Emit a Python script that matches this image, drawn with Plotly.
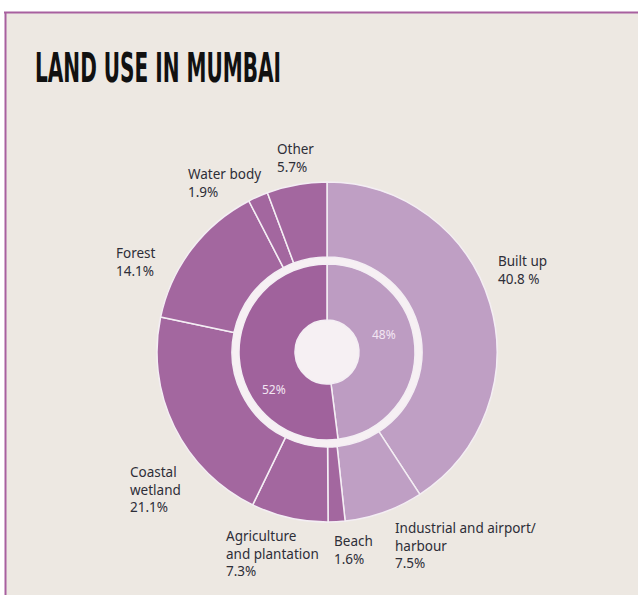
import plotly.graph_objects as go

# ---- data ----
outer_labels = ["Built up", "Industrial and airport/<br>harbour", "Beach",
                "Agriculture<br>and plantation", "Coastal<br>wetland", "Forest",
                "Water body", "Other"]
outer_values = [40.8, 7.5, 1.6, 7.3, 21.1, 14.1, 1.9, 5.7]
outer_pct_text = ["40.8 %", "7.5%", "1.6%", "7.3%", "21.1%", "14.1%", "1.9%", "5.7%"]
outer_group = ["built", "built", "other", "other", "other", "other", "other", "other"]

inner_labels = ["48%", "52%"]
inner_values = [48, 52]
inner_group = ["built", "other"]

title_text = "LAND USE IN MUMBAI"

# ---- styles / positions ----
W, H = 638, 595
LIGHT = "#bf9fc4"
DARK = "#a3679f"
INNER_LIGHT = "#bd9cc2"
INNER_DARK = "#a0629c"
SEP = "#f4eef4"
BG = "#ede8e2"
BORDER = "#a8609f"
colors = {"built": LIGHT, "other": DARK}
inner_colors = {"built": INNER_LIGHT, "other": INNER_DARK}

cx, cy = 327, 352
R_out, R_out_in = 170, 95
R_in, R_in_in = 88, 32

def dom(r):
    return dict(x=[(cx - r) / W, (cx + r) / W],
                y=[1 - (cy + r) / H, 1 - (cy - r) / H])

# label positions (top-left of text, pixels)
label_pos = [(496, 250), (393, 517), (332, 530), (224, 525),
             (128, 461), (114, 242), (186, 163), (275, 138)]
inner_text_pos = [(384, 334), (274, 389)]

def px(x):
    return x / W

def py(y):
    return 1 - y / H

fig = go.Figure()

fig.add_trace(go.Pie(
    values=outer_values, labels=outer_labels, sort=False, direction="clockwise",
    rotation=0, hole=R_out_in / R_out, domain=dom(R_out), textinfo="none",
    marker=dict(colors=[colors[g] for g in outer_group], line=dict(color=SEP, width=1.5)),
    showlegend=False, hoverinfo="label+value",
))
fig.add_trace(go.Pie(
    values=inner_values, labels=inner_labels, sort=False, direction="clockwise",
    rotation=0, hole=R_in_in / R_in, domain=dom(R_in), textinfo="none",
    marker=dict(colors=[inner_colors[g] for g in inner_group], line=dict(color=SEP, width=1.5)),
    showlegend=False, hoverinfo="label+value",
))

NOLINE = dict(width=0, color="rgba(0,0,0,0)")
shapes = [
    dict(type="rect", xref="paper", yref="paper", x0=px(5), x1=1, y0=0, y1=py(12),
         fillcolor=BG, line=NOLINE, layer="below"),
    dict(type="line", xref="paper", yref="paper", x0=px(4), x1=1, y0=py(12.5), y1=py(12.5),
         line=dict(color=BORDER, width=2), layer="below"),
    dict(type="line", xref="paper", yref="paper", x0=px(5.5), x1=px(5.5), y0=0, y1=py(12),
         line=dict(color=BORDER, width=2), layer="below"),
    # soft whitish halo between rings and in the hole
    dict(type="circle", xref="paper", yref="paper",
         x0=px(cx - R_out_in - 1), x1=px(cx + R_out_in + 1),
         y0=py(cy + R_out_in + 1), y1=py(cy - R_out_in - 1),
         fillcolor="#f6f0f3", line=NOLINE, layer="below"),
]

annotations = [
    dict(text="<b>" + title_text + "</b>",
         x=px(33), y=py(43), xref="paper", yref="paper",
         xanchor="left", yanchor="top", showarrow=False,
         font=dict(family="DejaVu Sans Condensed, DejaVu Sans", size=40, color="#111111")),
]
for lab, pct, (x, y) in zip(outer_labels, outer_pct_text, label_pos):
    annotations.append(dict(
        text=lab + "<br>" + pct, x=px(x), y=py(y), xref="paper", yref="paper",
        xanchor="left", yanchor="top", align="left", showarrow=False,
        font=dict(family="Noto Sans", size=13.5, color="#2e2e38"),
    ))
for lab, (x, y) in zip(inner_labels, inner_text_pos):
    annotations.append(dict(
        text=lab, x=px(x), y=py(y), xref="paper", yref="paper",
        xanchor="center", yanchor="middle", showarrow=False,
        font=dict(family="Noto Sans", size=12, color="#f3e6f3"),
    ))

fig.update_layout(
    width=W, height=H, margin=dict(l=0, r=0, t=0, b=0),
    paper_bgcolor="white", plot_bgcolor="white",
    shapes=shapes, annotations=annotations,
)

post = """
document.documentElement.style.overflow = 'hidden';
document.body.style.overflow = 'hidden';
document.body.style.margin = '0';
var gd = document.getElementById('{plot_id}');
var ann = gd.querySelector('.annotation[data-index="0"] text.annotation-text');
if (ann) {
  var bb = ann.getBBox();
  var targetW = 246;
  var s = targetW / bb.width;
  ann.setAttribute('transform', 'translate(' + bb.x + ',0) scale(' + s + ',1) translate(' + (-bb.x) + ',0)');
}
"""

fig.write_html("out.html", config={"displayModeBar": False}, post_script=post)
